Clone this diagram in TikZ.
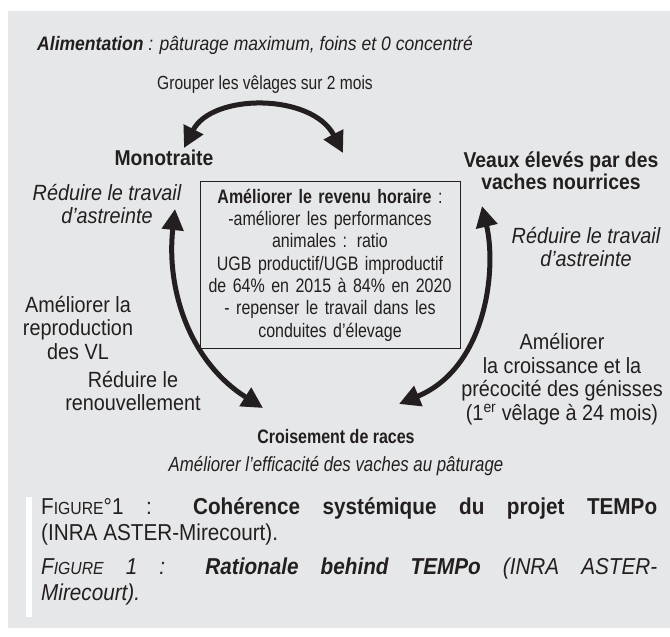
\documentclass[tikz,border=0pt]{standalone}
\usepackage{fontspec}
\setmainfont{Liberation Sans}
\newfontfamily\narrow{Liberation Sans}[FakeStretch=0.82]
\newfontfamily\roomy{Liberation Sans}[FakeStretch=0.9]
\usetikzlibrary{arrows.meta}
\definecolor{ink}{HTML}{231F20}
\definecolor{panel}{HTML}{E6E7E8}

\begin{document}
\begin{tikzpicture}[x=1pt, y=-1pt]
	\tikzstyle{every node} = [inner sep=0pt, text=ink, align=center, font=\narrow\fontsize{19}{22.5}\selectfont]
	\tikzstyle{lever} = [font=\roomy\fontsize{21.5}{22}\selectfont\bfseries]
	\tikzstyle{side} = [font=\roomy\fontsize{22}{23.5}\selectfont]
	\tikzstyle{aim} = [font=\roomy\fontsize{22}{23.5}\selectfont\itshape]
	\tikzstyle{bigarrow} = [line width=5pt, draw=ink, {Triangle[length=21pt,width=21pt]}-{Triangle[length=21pt,width=21pt]}]
	\tikzstyle{caption} = [text width=616pt, align=justify, font=\roomy\fontsize{23}{26}\selectfont]
	\useasboundingbox (0,0) rectangle (670,637);
	\fill[panel] (8,11) rectangle (670,628);
	\fill[white] (26,497) rectangle (32,617);
	% header
	\node[anchor=west, font=\roomy\fontsize{19.5}{22}\selectfont\itshape] (feed) at (37,45) {\textbf{Alimentation} : pâturage maximum, foins et 0 concentré};
	\node (group) at (265,85) {Grouper les vêlages sur 2 mois};
	% the three practices
	\node[lever] (mono) at (164,158) {Monotraite};
	\node[lever] (veaux) at (561,171) {Veaux élevés par des\\vaches nourrices};
	\node[font=\narrow\fontsize{19.5}{22}\selectfont\bfseries] (cross) at (336,437) {Croisement de races};
	\node[aim] (monoaim) at (107,204) {Réduire le travail\\d’astreinte};
	\node[aim] (veauxaim) at (586,247) {Réduire le travail\\d’astreinte};
	\node[font=\narrow\fontsize{20.5}{22}\selectfont\itshape] (crossaim) at (336,466) {Améliorer l’efficacité des vaches au pâturage};
	% central goal
	\node[draw=ink, line width=0.8pt, text width=252pt, inner sep=4pt, minimum height=167pt, font=\narrow\fontsize{19.5}{22.3}\selectfont] (goal) at (330,265)
		{\textbf{Améliorer le revenu horaire} :\\-améliorer les performances\\animales : ratio\\UGB productif/UGB improductif\\de 64\% en 2015 à 84\% en 2020\\- repenser le travail dans les\\conduites d’élevage};
	% links
	\node[side] (repro) at (78,328) {Améliorer la\\reproduction\\des VL};
	\node[side] (renouv) at (133,391) {Réduire le\\renouvellement};
	\node[side] (growth) at (562,379) {Améliorer\\la croissance et la\\précocité des génisses\\(1\textsuperscript{er} vêlage à 24 mois)};
	\coordinate (monoR) at (184,148);
	\coordinate (veauxL) at (343,153);
	\coordinate (monoB) at (175,209);
	\coordinate (crossL) at (263,408);
	\coordinate (veauxB) at (482,206);
	\coordinate (crossR) at (399,404);
	\draw[bigarrow] (monoR) .. controls (212,93) and (312,93) .. (veauxL);
	\draw[bigarrow] (monoB) .. controls (166,290) and (190,362) .. (crossL);
	\draw[bigarrow] (veauxB) .. controls (497,270) and (486,368) .. (crossR);
	% caption
	\node[caption, anchor=north west] (cap) at (41,497)
		{F{\fontsize{17.5}{17.5}\selectfont IGURE}°1 : \textbf{Cohérence systémique du projet TEMPo}\linebreak (INRA ASTER-Mirecourt).\par\vspace{8pt}
		\itshape F{\fontsize{17.5}{17.5}\selectfont IGURE} 1 : \textbf{Rationale behind TEMPo} (INRA ASTER-\linebreak Mirecourt).};
\end{tikzpicture}
\end{document}
